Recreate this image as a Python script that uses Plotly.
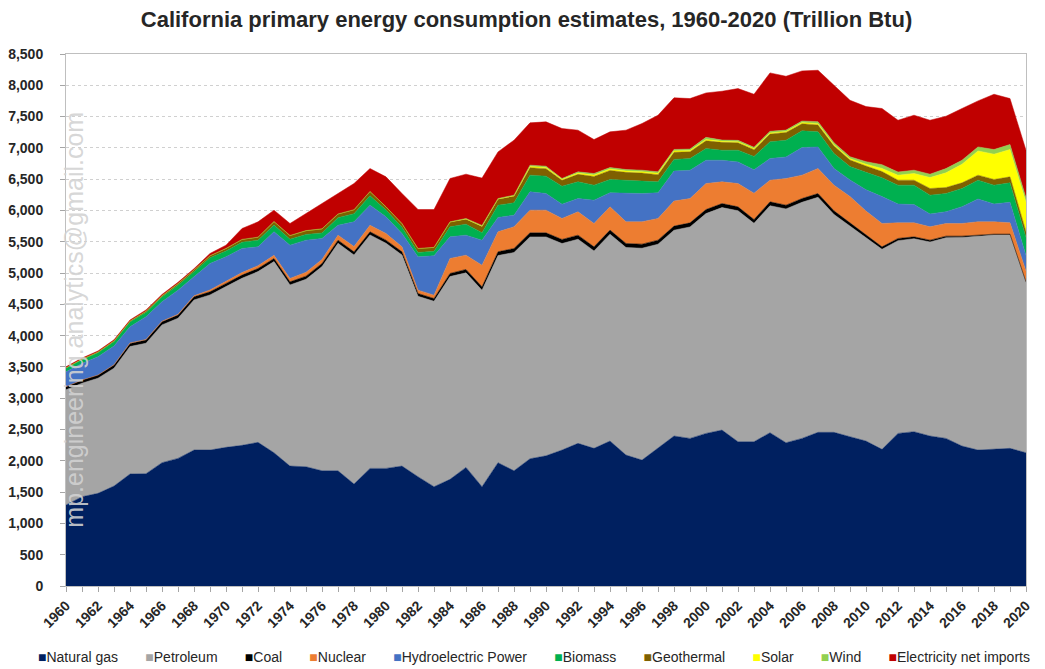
import plotly.graph_objects as go

years = list(range(1960, 2021))

# trillion Btu (stack order bottom -> top)
natural_gas = [1294, 1426, 1480, 1597, 1789, 1794, 1970, 2039, 2172, 2172,
               2215, 2247, 2295, 2129, 1916, 1905, 1841, 1841, 1629, 1879,
               1879, 1916, 1746, 1586, 1704, 1895, 1586, 1970, 1841, 2033,
               2080, 2172, 2279, 2199, 2316, 2092, 2012, 2199, 2396, 2358,
               2438, 2491, 2305, 2305, 2449, 2289, 2358, 2455, 2455, 2385,
               2316, 2183, 2438, 2465, 2396, 2358, 2236, 2172, 2188, 2199,
               2129]
petroleum = [1840, 1814, 1840, 1883, 2037, 2085, 2202, 2239, 2399, 2479,
             2569, 2670, 2728, 3054, 2894, 2996, 3262, 3635, 3660, 3730,
             3597, 3373, 2883, 2963, 3240, 3108, 3139, 3310, 3487, 3545,
             3498, 3300, 3262, 3155, 3305, 3316, 3385, 3262, 3289, 3379,
             3512, 3555, 3691, 3489, 3627, 3736, 3773, 3756, 3481, 3367,
             3259, 3196, 3080, 3084, 3100, 3207, 3334, 3414, 3419, 3408,
             2719]
coal = [50, 50, 50, 50, 50, 50, 50, 50, 50, 50,
        50, 50, 50, 50, 50, 50, 50, 50, 50, 50,
        50, 50, 45, 45, 50, 55, 55, 60, 65, 65,
        65, 65, 65, 65, 65, 65, 65, 65, 65, 65,
        65, 65, 62, 62, 62, 60, 60, 60, 58, 50,
        45, 40, 35, 30, 30, 25, 20, 20, 15, 15,
        12]
nuclear = [0, 0, 0, 5, 8, 10, 10, 12, 15, 30,
           35, 40, 45, 50, 55, 60, 65, 80, 85, 105,
           106, 80, 53, 53, 239, 228, 345, 319, 346, 362,
           362, 335, 372, 373, 372, 346, 357, 346, 400, 388,
           415, 346, 372, 420, 346, 425, 373, 399, 410, 420,
           370, 373, 250, 224, 213, 202, 202, 213, 197, 181,
           170]
hydro = [239, 266, 293, 298, 258, 362, 309, 387, 304, 422,
         390, 386, 301, 376, 531, 515, 334, 159, 394, 321,
         266, 213, 532, 630, 346, 320, 399, 229, 186, 293,
         266, 229, 213, 373, 224, 452, 452, 410, 479, 452,
         373, 346, 346, 373, 346, 346, 441, 346, 267, 266,
         340, 430, 301, 291, 206, 189, 269, 365, 285, 328,
         250]
biomass = [55, 60, 65, 70, 75, 70, 75, 80, 80, 90,
           95, 100, 105, 110, 95, 90, 90, 120, 130, 150,
           110, 100, 70, 70, 160, 175, 120, 197, 197, 266,
           277, 287, 266, 239, 213, 213, 197, 175, 186, 187,
           186, 160, 187, 213, 266, 266, 267, 240, 239, 213,
           280, 300, 300, 310, 300, 290, 290, 300, 300, 310,
           290]
geothermal = [10, 10, 12, 15, 18, 20, 22, 25, 30, 35,
              40, 45, 50, 55, 60, 62, 65, 60, 65, 70,
              50, 60, 64, 64, 75, 80, 100, 95, 105, 120,
              120, 95, 120, 140, 145, 125, 130, 115, 115, 110,
              125, 125, 120, 110, 125, 125, 115, 110, 120, 105,
              100, 100, 80, 80, 106, 96, 90, 80, 91, 96,
              90]
solar = [0, 0, 0, 0, 0, 0, 0, 0, 0, 0,
         0, 0, 0, 0, 0, 0, 0, 0, 0, 0,
         0, 0, 0, 0, 2, 3, 5, 5, 8, 20,
         20, 15, 20, 22, 22, 22, 22, 22, 22, 18,
         20, 16, 16, 17, 18, 16, 18, 20, 20, 22,
         30, 50, 80, 107, 176, 234, 299, 388, 404, 437,
         470]
wind = [0, 0, 0, 0, 0, 0, 0, 0, 0, 0,
        0, 0, 0, 0, 0, 0, 0, 0, 0, 0,
        0, 0, 0, 0, 3, 8, 12, 6, 10, 20,
        20, 13, 20, 25, 24, 23, 24, 23, 23, 24,
        34, 21, 21, 21, 25, 21, 24, 33, 33, 31,
        40, 60, 50, 53, 53, 69, 63, 64, 75, 80,
        70]
net_imports = [15, 15, 15, 15, 15, 20, 20, 20, 20, 35,
               52, 174, 244, 181, 191, 274, 405, 326, 418, 365,
               479, 479, 622, 604, 692, 708, 756, 745, 878, 676,
               708, 798, 666, 542, 570, 629, 745, 905, 825, 807,
               710, 780, 828, 847, 934, 860, 801, 821, 918, 902,
               880, 897, 828, 878, 862, 836, 826, 735, 883, 734,
               763]

series = [
    ("Natural gas", natural_gas, "#002060"),
    ("Petroleum", petroleum, "#A5A5A5"),
    ("Coal", coal, "#000000"),
    ("Nuclear", nuclear, "#ED7D31"),
    ("Hydroelectric Power", hydro, "#4472C4"),
    ("Biomass", biomass, "#00B050"),
    ("Geothermal", geothermal, "#7F6000"),
    ("Solar", solar, "#FFFF00"),
    ("Wind", wind, "#92D050"),
    ("Electricity net imports", net_imports, "#C00000"),
]

fig = go.Figure()

# stacked areas
for name, vals, color in series:
    fig.add_trace(go.Scatter(
        x=years, y=vals, name=name, mode='lines', stackgroup='one',
        line=dict(width=0.5, color=color), fillcolor=color, showlegend=False
    ))

# excel style legend: small squares right before the names, one row
nb = '\u00a0'
legend_text = (nb * 7).join(
    "<span style='color:%s'>\u25a0</span>%s" % (color, name) for name, vals, color in series
)
fig.add_annotation(
    text=legend_text, xref='paper', yref='paper', x=0.4876, y=-0.134,
    xanchor='center', yanchor='middle', showarrow=False,
    font=dict(family="Liberation Sans, Arial", size=14, color="#262626")
)

# watermark
fig.add_annotation(
    text="mp.engineering.analytics@gmail.com", textangle=-90,
    xref='paper', yref='paper', x=0.008, y=0.5, xanchor='center', yanchor='middle',
    showarrow=False, font=dict(family="Liberation Sans, Arial", size=25, color="rgba(210,210,210,0.9)")
)

# page body adds an 8px margin, so the figure is sized to the window minus that offset
fig.update_layout(
    width=1037, height=661,
    margin=dict(l=58, r=13, t=46, b=83),
    plot_bgcolor='white', paper_bgcolor='white',
    font=dict(family="Liberation Sans, Arial", color="#262626"),
    title=dict(text="California primary energy consumption estimates, 1960-2020 (Trillion Btu)",
               x=0.5, xanchor='center', xref='container', y=0.9834, yanchor='middle', yref='container',
               font=dict(size=22, weight='bold', color="#262626")),
    showlegend=False,
)

fig.update_xaxes(
    range=[1960, 2020], tickvals=list(range(1960, 2021, 2)), tickangle=-45,
    ticks='outside', ticklen=5, tickcolor='#a6a6a6',
    minor=dict(dtick=1, ticks='outside', ticklen=5, tickcolor='#a6a6a6'),
    showline=True, linecolor='#bfbfbf', mirror=True, showgrid=False,
    tickfont=dict(size=14, weight='bold', color="#262626"), ticklabeloverflow='allow',
)
fig.update_yaxes(
    range=[0, 8500], dtick=500, tickformat=',',
    ticks='outside', ticklen=5, tickcolor='#a6a6a6',
    showline=True, linecolor='#bfbfbf', mirror=True,
    showgrid=True, gridcolor='#d0d0d0', griddash='dot', gridwidth=1,
    tickfont=dict(size=14, weight='bold', color="#262626"), ticklabelstandoff=14,
    automargin=False,
)

fig.write_html("out.html")
